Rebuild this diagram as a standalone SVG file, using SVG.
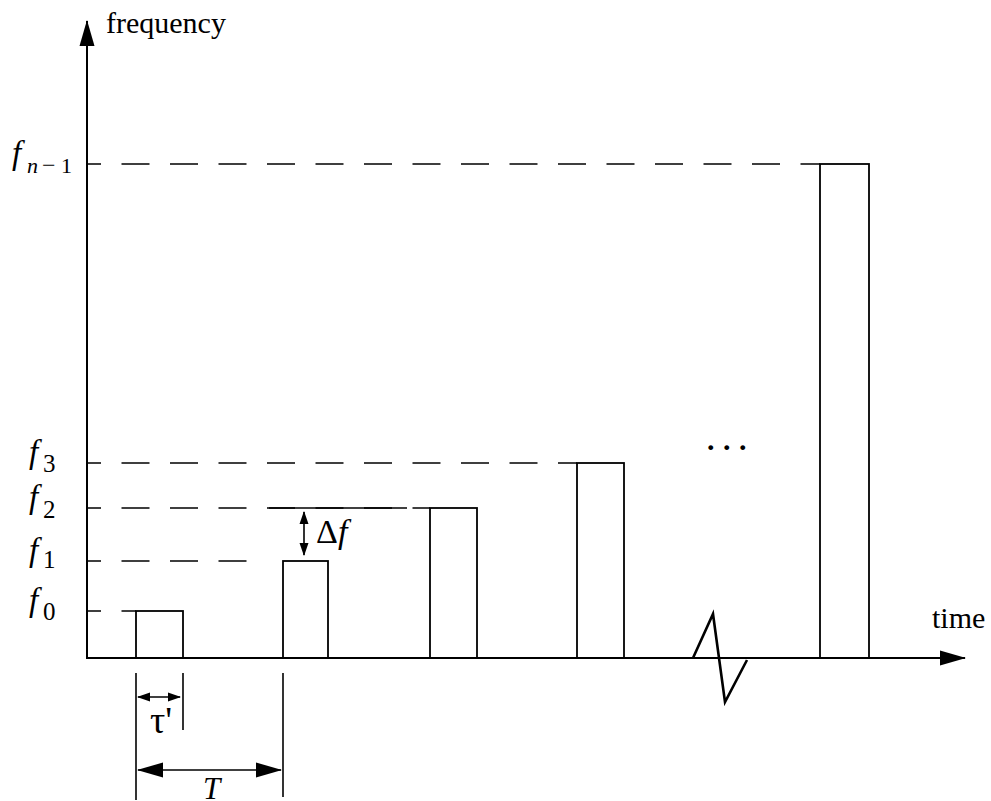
<svg xmlns="http://www.w3.org/2000/svg" width="991" height="801" viewBox="0 0 991 801">
<style>
  .ax{stroke:#000;stroke-width:2;fill:none}
  .ln{stroke:#000;stroke-width:1.6;fill:none}
  .dash{stroke:#000;stroke-width:1.6;fill:none;stroke-dasharray:28 20.5;stroke-dashoffset:14}
  .bx{stroke:#000;stroke-width:1.8;fill:#fff}
  .t{font-family:"Liberation Serif","Times New Roman",serif;fill:#000}
  .i{font-style:italic}
  .fl{font-size:33px;font-style:italic}
  .sub{font-size:25px;font-style:normal}
</style>
<defs>
  <marker id="big" markerUnits="userSpaceOnUse" markerWidth="40" markerHeight="40" viewBox="-30 -10 40 20" refX="0" refY="0" orient="auto-start-reverse" overflow="visible">
    <path d="M1,0 L-25,-7.5 L-25,7.5 Z" fill="#000"/>
  </marker>
  <marker id="small" markerUnits="userSpaceOnUse" markerWidth="20" markerHeight="20" viewBox="-15 -8 20 16" refX="0" refY="0" orient="auto-start-reverse" overflow="visible">
    <path d="M1,0 L-12,-4.5 L-12,4.5 Z" fill="#000"/>
  </marker>
</defs>

<g id="guides">
  <line class="dash" x1="87" y1="164" x2="820" y2="164"/>
  <line class="dash" x1="87" y1="463" x2="577" y2="463"/>
  <line class="dash" x1="87" y1="508" x2="430" y2="508"/>
  <line class="ln" x1="269" y1="508" x2="407" y2="508"/>
  <line class="dash" x1="87" y1="561" x2="250" y2="561"/>
  <line class="dash" x1="87" y1="611" x2="136" y2="611"/>
</g>

<g id="pulses">
  <rect id="p0" class="bx" x="136" y="611" width="47" height="47"/>
  <rect id="p1" class="bx" x="283" y="561" width="45" height="97"/>
  <rect id="p2" class="bx" x="430" y="508" width="47" height="150"/>
  <rect id="p3" class="bx" x="577" y="463" width="47" height="195"/>
  <rect id="pn" class="bx" x="820" y="164" width="49" height="494"/>
</g>

<g id="axes">
  <line class="ax" x1="87" y1="658" x2="87" y2="21" marker-end="url(#big)"/>
  <line class="ax" x1="86" y1="658" x2="965" y2="658" marker-end="url(#big)"/>
  <polyline points="693,658 713,614 725,702 747,660" fill="none" stroke="#000" stroke-width="2.6" stroke-linejoin="miter"/>
</g>

<g id="dimensions">
  <line class="ln" x1="136" y1="673" x2="136" y2="800"/>
  <line class="ln" x1="183" y1="673" x2="183" y2="730"/>
  <line class="ln" x1="283" y1="673" x2="283" y2="797"/>
  <line class="ln" x1="138" y1="697" x2="180" y2="697" marker-start="url(#small)" marker-end="url(#small)"/>
  <line class="ln" x1="138" y1="770" x2="281" y2="770" marker-start="url(#big)" marker-end="url(#big)"/>
  <line class="ln" x1="304" y1="512" x2="304" y2="555" marker-start="url(#small)" marker-end="url(#small)"/>
</g>

<g id="labels">
  <text class="t" x="106" y="33" font-size="30">frequency</text>
  <text class="t" x="932" y="628" font-size="30">time</text>
  <text class="t" y="164"><tspan class="fl" x="12" font-size="34">f</tspan><tspan x="27" y="173" font-size="22" class="i">n</tspan><tspan x="42" y="173" font-size="24">−</tspan><tspan x="61" y="173" font-size="22">1</tspan></text>
  <text class="t" y="463"><tspan class="fl" x="29">f</tspan><tspan class="sub" x="43" y="472">3</tspan></text>
  <text class="t" y="508"><tspan class="fl" x="29">f</tspan><tspan class="sub" x="43" y="518">2</tspan></text>
  <text class="t" y="561"><tspan class="fl" x="29">f</tspan><tspan class="sub" x="43" y="568">1</tspan></text>
  <text class="t" y="611"><tspan class="fl" x="29">f</tspan><tspan class="sub" x="43" y="620">0</tspan></text>
  <text class="t" x="316" y="543" font-size="34">Δ<tspan class="i">f</tspan></text>
  <text class="t" x="150" y="733" font-size="38">τ'</text>
  <text class="t i" x="203" y="799" font-size="31">T</text>
  <text class="t" x="707" y="450" font-size="30" font-weight="bold" letter-spacing="8.5">...</text>
</g>
</svg>
